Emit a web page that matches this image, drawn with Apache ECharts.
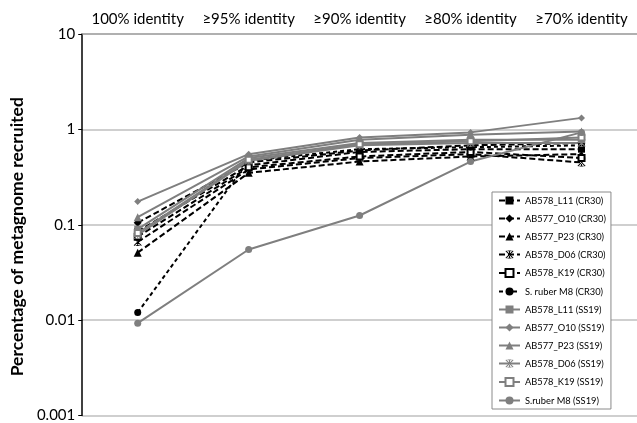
<!DOCTYPE html>
<html><head><meta charset="utf-8">
<script src="https://cdn.jsdelivr.net/npm/echarts@6/dist/echarts.min.js"></script>
<style>html,body{margin:0;padding:0;background:#fff}#c{width:637px;height:423px}</style>
</head><body><div id="c"></div>
<script>
var categories = ['100% identity', '≥95% identity', '≥90% identity', '≥80% identity', '≥70% identity'];
var yTicks = [0.001, 0.01, 0.1, 1, 10];
var seriesNames = ['AB578_L11 (CR30)', 'AB577_O10 (CR30)', 'AB577_P23 (CR30)', 'AB578_D06 (CR30)', 'AB578_K19 (CR30)', 'S. ruber M8 (CR30)',
  'AB578_L11 (SS19)', 'AB577_O10 (SS19)', 'AB577_P23 (SS19)', 'AB578_D06 (SS19)', 'AB578_K19 (SS19)', 'S.ruber M8 (SS19)'];
var L11_CR30 = [0.085, 0.42, 0.58, 0.62, 0.62];
var O10_CR30 = [0.105, 0.45, 0.60, 0.68, 0.72];
var P23_CR30 = [0.051, 0.35, 0.46, 0.52, 0.55];
var D06_CR30 = [0.066, 0.38, 0.50, 0.55, 0.45];
var K19_CR30 = [0.075, 0.40, 0.52, 0.58, 0.50];
var Sruber_CR30 = [0.012, 0.47, 0.62, 0.65, 0.68];
var L11_SS19 = [0.090, 0.50, 0.72, 0.78, 0.78];
var O10_SS19 = [0.175, 0.55, 0.82, 0.93, 1.32];
var P23_SS19 = [0.120, 0.52, 0.78, 0.88, 0.95];
var D06_SS19 = [0.078, 0.47, 0.68, 0.72, 0.72];
var K19_SS19 = [0.082, 0.48, 0.70, 0.75, 0.82];
var Sruber_SS19 = [0.0093, 0.055, 0.125, 0.46, 0.93];

var allData = [L11_CR30, O10_CR30, P23_CR30, D06_CR30, K19_CR30, Sruber_CR30, L11_SS19, O10_SS19, P23_SS19, D06_SS19, K19_SS19, Sruber_SS19];
var ASTER = 'path://M4.4,0 L5.6,0 L5.6,10 L4.4,10 Z M0,0.8 L0.8,0 L10,9.2 L9.2,10 Z M10,0.8 L9.2,0 L0,9.2 L0.8,10 Z M2.5,0 L7.5,0 L7.5,0.9 L2.5,0.9 Z M2.5,9.1 L7.5,9.1 L7.5,10 L2.5,10 Z';
var symbols = ['rect', 'diamond', 'triangle', ASTER, 'emptyRect', 'circle', 'rect', 'diamond', 'triangle', ASTER, 'emptyRect', 'circle'];
var sizes = [7, 8, 8, 8, 6, 7, 7, 7, 8, 8, 6, 7];
var GRAY = '#7f7f7f';

var series = allData.map(function (d, i) {
  var cr = i < 6;
  var col = cr ? '#000' : GRAY;
  return {
    name: seriesNames[i], type: 'line', data: d,
    symbol: symbols[i], symbolSize: sizes[i],
    lineStyle: { color: col, width: 2, type: cr ? (i === 5 ? [4, 3] : [6, 3]) : 'solid' },
    itemStyle: { color: col, borderColor: col, borderWidth: symbols[i] === 'emptyRect' ? 1 : 0 },
    emphasis: { disabled: true },
    animation: false
  };
});

var chart = echarts.init(document.getElementById('c'), null, { renderer: 'canvas' });
chart.setOption({
  animation: false,
  textStyle: { fontFamily: 'Lato' },
  grid: { left: 77, right: -2, top: 34, bottom: 5, containLabel: false },
  legend: {
    orient: 'vertical', left: 492, top: 192,
    padding: [4, 5, 4, 6], itemGap: 9, itemWidth: 21, itemHeight: 10,
    backgroundColor: '#fff', borderColor: '#8a8a8a', borderWidth: 1,
    textStyle: { fontFamily: 'Lato', fontSize: 9.3, color: '#000' },
    data: seriesNames
  },
  xAxis: {
    type: 'category', data: categories, position: 'top', boundaryGap: true,
    axisLine: { show: true, lineStyle: { color: '#a6a6a6', width: 1.5 } },
    axisTick: { show: false },
    axisLabel: { fontFamily: 'Lato', fontSize: 15, color: '#000', margin: 7, interval: 0 }
  },
  yAxis: {
    type: 'log', logBase: 10, min: yTicks[0], max: yTicks[yTicks.length - 1],
    name: 'Percentage of metagnome recruited', nameLocation: 'middle', nameGap: 56,
    nameTextStyle: { fontFamily: 'Lato', fontWeight: 'bold', fontSize: 17.5, color: '#000', padding: [0, 24, 0, 0] },
    axisLine: { show: true, lineStyle: { color: '#000', width: 1.5 } },
    axisTick: { show: true, inside: false, length: 4, lineStyle: { color: '#000' } },
    axisLabel: { fontFamily: 'Lato', fontSize: 15, color: '#000', margin: 7,
      formatter: function (v) { return String(+v.toPrecision(3)); } },
    splitLine: { show: true, lineStyle: { color: '#bfbfbf', width: 1.5 } },
    minorTick: { show: false }
  },
  series: series
});
</script></body></html>
